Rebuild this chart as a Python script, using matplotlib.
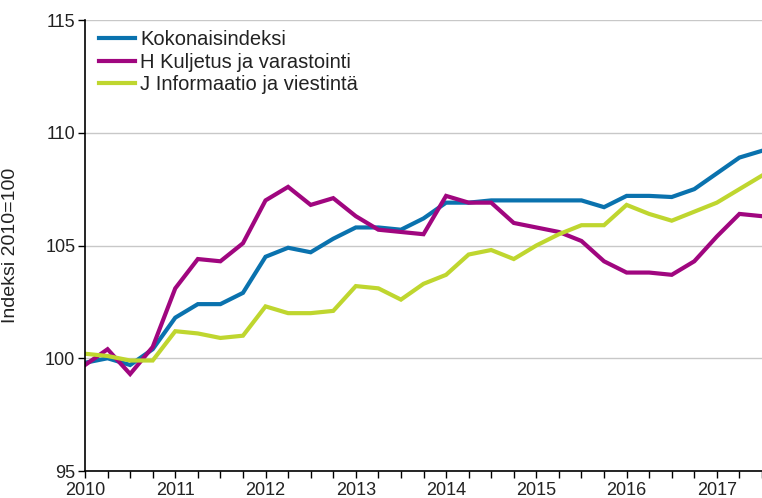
import matplotlib
matplotlib.use("Agg")
import matplotlib.pyplot as plt
import numpy as np

plt.rcParams['font.family'] = ['Liberation Sans', 'DejaVu Sans']

# Quarterly data 2010Q1 .. 2017Q3
start_year = 2010
kokonais = [99.8, 100.0, 99.7, 100.4, 101.8, 102.4, 102.4, 102.9,
            104.5, 104.9, 104.7, 105.3, 105.8, 105.8, 105.7, 106.2,
            106.9, 106.9, 107.0, 107.0, 107.0, 107.0, 107.0, 106.7,
            107.2, 107.2, 107.15, 107.5, 108.2, 108.9, 109.2]
kuljetus = [99.7, 100.4, 99.3, 100.5, 103.1, 104.4, 104.3, 105.1,
            107.0, 107.6, 106.8, 107.1, 106.3, 105.7, 105.6, 105.5,
            107.2, 106.9, 106.9, 106.0, 105.8, 105.6, 105.2, 104.3,
            103.8, 103.8, 103.7, 104.3, 105.4, 106.4, 106.3]
informaatio = [100.2, 100.1, 99.9, 99.9, 101.2, 101.1, 100.9, 101.0,
               102.3, 102.0, 102.0, 102.1, 103.2, 103.1, 102.6, 103.3,
               103.7, 104.6, 104.8, 104.4, 105.0, 105.5, 105.9, 105.9,
               106.8, 106.4, 106.1, 106.5, 106.9, 107.5, 108.1]
series_names = ["Kokonaisindeksi", "H Kuljetus ja varastointi",
                "J Informaatio ja viestintä"]
colors = ["#0A72AE", "#A0067F", "#BFD62F"]
year_labels = [str(y) for y in range(2010, 2018)]
y_ticks = [95, 100, 105, 110, 115]

x = start_year + np.arange(len(kokonais)) * 0.25

fig = plt.figure(figsize=(7.62, 4.98), dpi=100)
ax = fig.add_axes([85/762, 1 - 471/498, 1 - 85/762, (471 - 20)/498])

for vals, name, c in zip([kokonais, kuljetus, informaatio], series_names, colors):
    ax.plot(x, vals, color=c, lw=3.0, label=name, solid_joinstyle='miter')

ax.set_xlim(2010, 2017.5)
ax.set_ylim(95, 115)
ax.set_yticks(y_ticks)
ax.set_yticklabels([str(t) for t in y_ticks], fontsize=13, color='#222222')
ax.set_xticks([int(l) for l in year_labels])
ax.set_xticklabels(year_labels, fontsize=13, color='#222222')
ax.set_xticks(np.arange(2010, 2017.51, 0.25), minor=True)
ax.tick_params(axis='x', which='both', direction='out', length=5, width=1, color='black', pad=3)
ax.tick_params(axis='y', direction='out', length=5, width=1, color='black', pad=2)

ax.grid(axis='y', color='#C8C8C8', lw=1)
ax.set_axisbelow(True)
for s in ['top', 'right']:
    ax.spines[s].set_visible(False)
ax.spines['left'].set_color('black')
ax.spines['bottom'].set_color('black')
ax.spines['left'].set_linewidth(1.2)
ax.spines['bottom'].set_linewidth(1.2)

ax.set_ylabel("Indeksi 2010=100", fontsize=14, color='#222222')
ax.yaxis.set_label_coords(-0.097, 0.5)

leg = ax.legend(loc='upper left', bbox_to_anchor=(0.0, 1.008), frameon=False,
                fontsize=14.5, handlelength=1.8, handletextpad=0.25,
                labelspacing=0.17, borderaxespad=0.3)
for t in leg.get_texts():
    t.set_color('#222222')

fig.savefig("out.png", dpi=100)
